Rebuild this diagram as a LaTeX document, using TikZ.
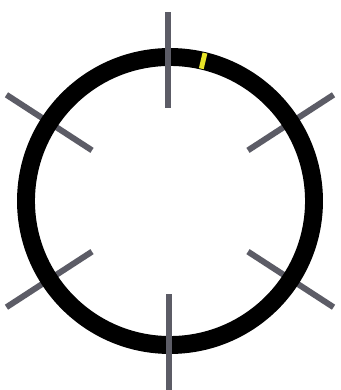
\documentclass[tikz,border=0pt]{standalone}
\usetikzlibrary{calc}
\definecolor{tickgray}{RGB}{92,92,102}
\definecolor{markyellow}{RGB}{232,228,40}

\begin{document}
\begin{tikzpicture}[line width=0.7pt, tick/.style={tickgray, line width=3.4pt}]
          \clip (-3.4,-3.78) rectangle (3.4,4.02);
          \fill[white] (-3.4,-3.78) rectangle (3.4,4.02);
          % Slanted ticks, behind the ring
          \foreach \a in {33,147,213,327}
            \draw[tick] (\a:1.86) -- (\a:3.9);
          % The ring
          \draw[black, line width=10.2pt] (0,0) circle (2.88);
          % Vertical ticks, over the ring
          \draw[tick] (-0.04,1.86) -- (-0.04,3.78);
          \draw[tick] (-0.02,-1.86) -- (-0.02,-3.9);
          % Yellow mark on the ring
          \draw[markyellow, line width=2.8pt] (76.7:2.72) -- (76.7:3.04);
        \end{tikzpicture}
\end{document}
